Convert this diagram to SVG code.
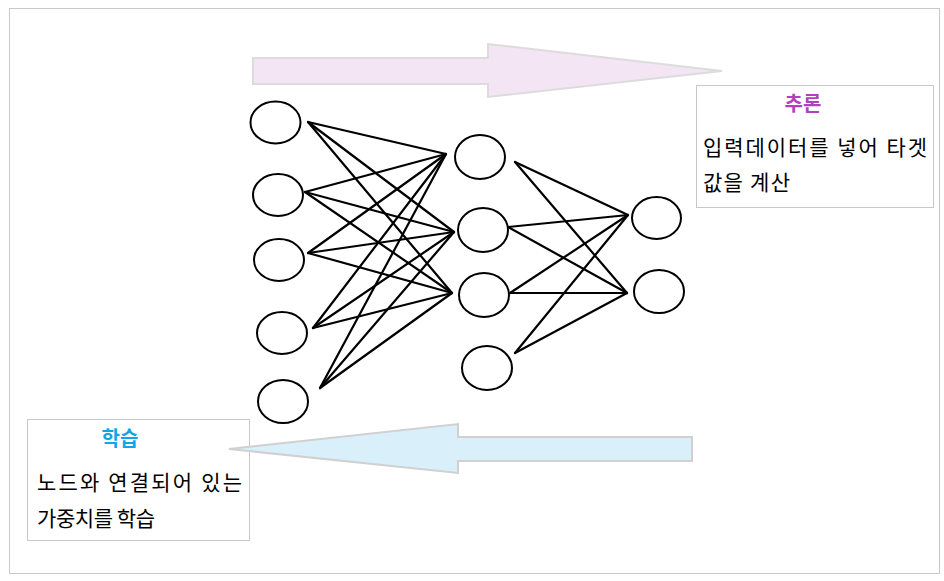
<svg xmlns="http://www.w3.org/2000/svg" width="944" height="581" viewBox="0 0 944 581">
<style>
.node{fill:#fff;stroke:#000;stroke-width:2}
.edge{stroke:#000;stroke-width:2.2;fill:none;stroke-linecap:round}
.box{fill:#fff;stroke:#c8c8c8;stroke-width:1}
.txt{font-family:"Noto Sans CJK KR","Liberation Sans",sans-serif;font-size:21px;fill:#000}
.title{font-family:"Noto Sans CJK KR","Liberation Sans",sans-serif;font-size:20px;font-weight:bold;text-anchor:middle}
</style>
<rect x="9.5" y="8.5" width="930" height="565" fill="#fff" stroke="#c8c8c8"/>
<g id="inference-box">
<rect class="box" x="696.5" y="85.5" width="237" height="122"/>
<text class="title" x="803" y="111" fill="#b13fbf">추론</text>
<text class="txt" x="703" y="155" textLength="224" lengthAdjust="spacing">입력데이터를 넣어 타겟</text>
<text class="txt" x="703" y="190" textLength="87" lengthAdjust="spacing">값을 계산</text>
</g>
<g id="learning-box">
<rect class="box" x="27.5" y="419.5" width="222" height="121"/>
<text class="title" x="120" y="446" fill="#0fa6e6">학습</text>
<text class="txt" x="37" y="490" textLength="205" lengthAdjust="spacing">노드와 연결되어 있는</text>
<text class="txt" x="37" y="526" textLength="118" lengthAdjust="spacing">가중치를 학습</text>
</g>
<g id="arrow-forward"><polygon points="253,58 488,58 488,44 722,71 488,97 488,84 253,84" fill="#f3e5f3" stroke="#dcdcdc" stroke-width="2"/></g>
<g id="arrow-backward"><polygon points="692,437 458,437 458,424 229,449 458,473 458,461 692,461" fill="#d9f0fb" stroke="#d0d0d0" stroke-width="2"/></g>
<g id="connectors">
<line class="edge" x1="308" y1="122" x2="446" y2="154"/>
<line class="edge" x1="308" y1="122" x2="454" y2="232"/>
<line class="edge" x1="308" y1="122" x2="452" y2="293"/>
<line class="edge" x1="305" y1="192" x2="446" y2="154"/>
<line class="edge" x1="305" y1="192" x2="454" y2="232"/>
<line class="edge" x1="305" y1="192" x2="452" y2="293"/>
<line class="edge" x1="308" y1="253" x2="446" y2="154"/>
<line class="edge" x1="308" y1="253" x2="454" y2="232"/>
<line class="edge" x1="308" y1="253" x2="452" y2="293"/>
<line class="edge" x1="313" y1="328" x2="446" y2="154"/>
<line class="edge" x1="313" y1="328" x2="454" y2="232"/>
<line class="edge" x1="313" y1="328" x2="452" y2="293"/>
<line class="edge" x1="320" y1="388" x2="446" y2="154"/>
<line class="edge" x1="320" y1="388" x2="454" y2="232"/>
<line class="edge" x1="320" y1="388" x2="452" y2="293"/>
<line class="edge" x1="515" y1="162" x2="628" y2="215"/>
<line class="edge" x1="515" y1="162" x2="627" y2="293"/>
<line class="edge" x1="508" y1="227" x2="628" y2="215"/>
<line class="edge" x1="508" y1="227" x2="627" y2="293"/>
<line class="edge" x1="510" y1="293" x2="628" y2="215"/>
<line class="edge" x1="510" y1="293" x2="627" y2="293"/>
<line class="edge" x1="515" y1="353" x2="628" y2="215"/>
<line class="edge" x1="515" y1="353" x2="627" y2="293"/>
</g>
<g id="in1"><ellipse class="node" cx="275.5" cy="122.5" rx="25" ry="21"/></g>
<g id="in2"><ellipse class="node" cx="278" cy="195" rx="25" ry="21"/></g>
<g id="in3"><ellipse class="node" cx="279" cy="260" rx="25" ry="21"/></g>
<g id="in4"><ellipse class="node" cx="282" cy="333" rx="25" ry="21"/></g>
<g id="in5"><ellipse class="node" cx="283" cy="401.5" rx="25" ry="21.5"/></g>
<g id="h1"><ellipse class="node" cx="480" cy="157" rx="25" ry="22"/></g>
<g id="h2"><ellipse class="node" cx="483" cy="230" rx="25" ry="22"/></g>
<g id="h3"><ellipse class="node" cx="484" cy="295" rx="25" ry="22"/></g>
<g id="h4"><ellipse class="node" cx="487" cy="368" rx="25" ry="22"/></g>
<g id="o1"><ellipse class="node" cx="656.5" cy="218" rx="24.5" ry="21"/></g>
<g id="o2"><ellipse class="node" cx="659" cy="291.5" rx="25" ry="21.5"/></g>
</svg>
